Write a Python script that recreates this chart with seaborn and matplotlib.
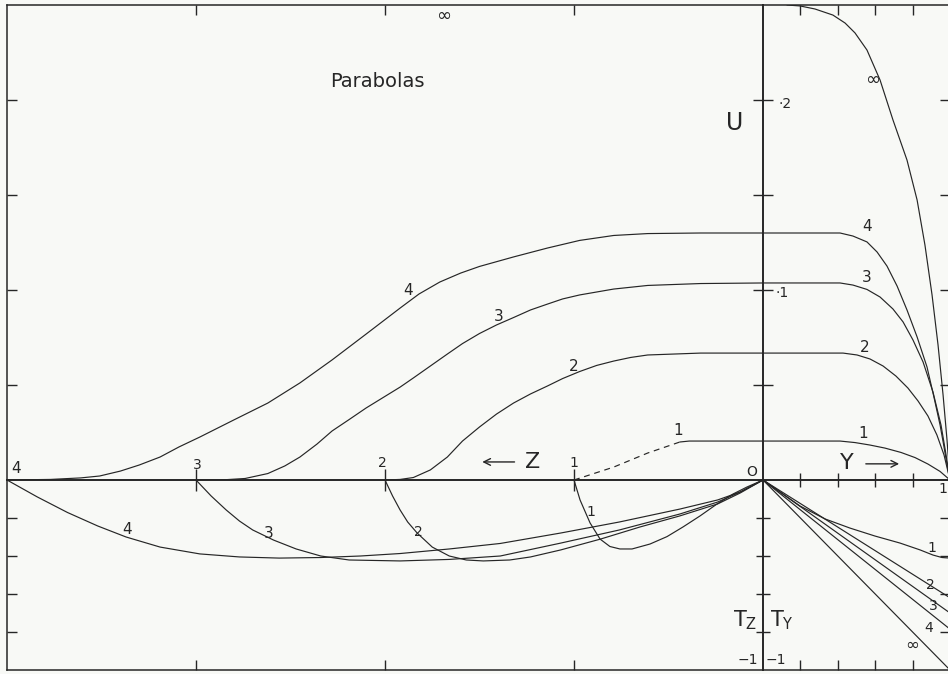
import matplotlib
matplotlib.use("Agg")
import matplotlib.pyplot as plt
import seaborn as sns

# ---------------------------------------------------------------
# U profiles along the Z direction (parabolas n = 1..4)
z_u4 = [4.0, 3.77, 3.61, 3.51, 3.40, 3.30, 3.19, 3.09, 2.98, 2.80, 2.62, 2.45, 2.28, 2.10, 1.92,
        1.82, 1.71, 1.60, 1.50, 1.32, 1.14, 0.97, 0.79, 0.61, 0.33, 0.0]
u_z4 = [0.0, 0.0003, 0.0011, 0.0021, 0.0047, 0.0079, 0.0121, 0.0174, 0.0226, 0.0316, 0.0405,
        0.0511, 0.0632, 0.0768, 0.0905, 0.0979, 0.1042, 0.1089, 0.1124, 0.1174, 0.1221, 0.1261,
        0.1287, 0.1297, 0.1300, 0.1300]
z_u3 = [3.0, 2.87, 2.74, 2.62, 2.53, 2.45, 2.36, 2.28, 2.19, 2.10, 2.01, 1.92, 1.85, 1.76, 1.67,
        1.59, 1.50, 1.41, 1.32, 1.23, 1.14, 1.06, 0.97, 0.79, 0.61, 0.33, 0.0]
u_z3 = [0.0, 0.0, 0.0008, 0.0034, 0.0074, 0.0121, 0.0189, 0.0258, 0.0318, 0.0379, 0.0434,
        0.0489, 0.0537, 0.0600, 0.0663, 0.0718, 0.0771, 0.0816, 0.0855, 0.0895, 0.0926, 0.0953,
        0.0974, 0.1005, 0.1024, 0.1034, 0.1037]
z_u2 = [2.0, 1.92, 1.85, 1.76, 1.67, 1.59, 1.50, 1.41, 1.32, 1.23, 1.14, 1.06, 0.97, 0.88, 0.79,
        0.70, 0.61, 0.33, 0.0]
u_z2 = [0.0, 0.0003, 0.0013, 0.0053, 0.0121, 0.0205, 0.0279, 0.0347, 0.0405, 0.0453, 0.0495,
        0.0534, 0.0571, 0.0603, 0.0626, 0.0645, 0.0658, 0.0668, 0.0668]
z_u1_dash = [1.0, 0.79, 0.61, 0.44]
u_z1_dash = [0.0, 0.0068, 0.0142, 0.0200]
z_u1 = [0.44, 0.39, 0.0]
u_z1 = [0.0200, 0.0205, 0.0205]

# U profiles along the Y direction
y_u4 = [0.0, 0.412, 0.481, 0.556, 0.610, 0.663, 0.717, 0.770, 0.824, 0.877, 0.914, 0.947,
        0.968, 0.989, 1.0]
u_y4 = [0.130, 0.130, 0.1284, 0.1253, 0.1200, 0.1126, 0.1021, 0.0895, 0.0753, 0.0595, 0.0437,
        0.0289, 0.0174, 0.0053, 0.0]
y_u3 = [0.0, 0.412, 0.481, 0.556, 0.626, 0.695, 0.749, 0.802, 0.856, 0.909, 0.952, 0.979, 1.0]
u_y3 = [0.1037, 0.1037, 0.1026, 0.1003, 0.0963, 0.0900, 0.0832, 0.0737, 0.0621, 0.0463, 0.0289,
        0.0132, 0.0]
y_u2 = [0.0, 0.428, 0.503, 0.572, 0.642, 0.711, 0.775, 0.829, 0.882, 0.930, 0.968, 1.0]
u_y2 = [0.0668, 0.0668, 0.0658, 0.0637, 0.0600, 0.0547, 0.0484, 0.0416, 0.0337, 0.0237, 0.0132, 0.0]
y_u1 = [0.0, 0.412, 0.492, 0.572, 0.652, 0.738, 0.813, 0.882, 0.947, 1.0]
u_y1 = [0.0205, 0.0205, 0.0197, 0.0184, 0.0168, 0.0145, 0.0118, 0.0084, 0.0045, 0.0]
y_uinf = [0.128, 0.198, 0.278, 0.374, 0.439, 0.492, 0.556, 0.626, 0.695, 0.770, 0.824, 0.866,
          0.904, 0.936, 0.963, 0.984, 1.0]
u_yinf = [0.2500, 0.2495, 0.2479, 0.2447, 0.2405, 0.2353, 0.2263, 0.2105, 0.1895, 0.1684, 0.1474,
          0.1237, 0.0974, 0.0711, 0.0447, 0.0211, 0.0]

# T_Z along Z
z_t4 = [4.0, 3.84, 3.68, 3.52, 3.37, 3.19, 2.98, 2.77, 2.56, 2.34, 2.13, 1.92, 1.66, 1.39, 1.07,
        0.76, 0.44, 0.24, 0.12, 0.0]
t_z4 = [0.0, -0.089, -0.171, -0.242, -0.300, -0.353, -0.389, -0.405, -0.411, -0.408, -0.400,
        -0.387, -0.363, -0.334, -0.279, -0.221, -0.153, -0.105, -0.063, 0.0]
z_t3 = [3.0, 2.92, 2.84, 2.77, 2.70, 2.59, 2.47, 2.34, 2.19, 1.92, 1.66, 1.39, 1.07, 0.76, 0.44,
        0.24, 0.12, 0.0]
t_z3 = [0.0, -0.084, -0.158, -0.216, -0.263, -0.316, -0.363, -0.400, -0.421, -0.426, -0.418,
        -0.400, -0.332, -0.263, -0.179, -0.116, -0.063, 0.0]
z_t2 = [2.0, 1.96, 1.92, 1.88, 1.83, 1.75, 1.66, 1.57, 1.48, 1.34, 1.23, 1.07, 0.86, 0.65, 0.44,
        0.24, 0.12, 0.0]
t_z2 = [0.0, -0.084, -0.158, -0.221, -0.279, -0.353, -0.400, -0.421, -0.426, -0.421, -0.405,
        -0.368, -0.311, -0.247, -0.189, -0.126, -0.068, 0.0]
z_t1 = [1.0, 0.968, 0.915, 0.862, 0.810, 0.757, 0.693, 0.598, 0.508, 0.423, 0.333, 0.243, 0.159,
        0.085, 0.0]
t_z1 = [0.0, -0.105, -0.226, -0.311, -0.350, -0.363, -0.363, -0.337, -0.298, -0.247, -0.189,
        -0.126, -0.074, -0.037, 0.0]

# T_Y along Y
y_t1 = [0.0, 0.091, 0.198, 0.332, 0.465, 0.599, 0.733, 0.840, 0.909, 0.957, 1.0]
t_y1 = [0.0, -0.063, -0.137, -0.205, -0.253, -0.295, -0.332, -0.368, -0.395, -0.408, -0.411]
y_t2 = [0.0, 1.0]
t_y2 = [0.0, -0.62]
y_t3 = [0.0, 1.0]
t_y3 = [0.0, -0.70]
y_t4 = [0.0, 1.0]
t_y4 = [0.0, -0.785]
y_tinf = [0.0, 1.0]
t_yinf = [0.0, -1.0]

z_ticks = [1, 2, 3]
y_ticks = [0.2, 0.4, 0.6, 0.8]
u_ticks = [0.05, 0.10, 0.15, 0.20]
t_ticks = [-0.2, -0.4, -0.6, -0.8]
# ---------------------------------------------------------------

sns.set_theme(style="white")
plt.rcParams["font.family"] = ["DejaVu Sans"]

PAPER = "#f8f9f6"
INK = "#262626"

W, H = 948, 674
fig = plt.figure(figsize=(W / 100, H / 100), dpi=100, facecolor=PAPER)


def px_box(x0, y0, x1, y1):
    return [x0 / W, 1 - y1 / H, (x1 - x0) / W, (y1 - y0) / H]


XL, XO, XR = 7, 763, 950
YT, YO, YB = 5, 480, 670
ax_zu = fig.add_axes(px_box(XL, YT, XO, YO))
ax_yu = fig.add_axes(px_box(XO, YT, XR, YO))
ax_zt = fig.add_axes(px_box(XL, YO, XO, YB))
ax_yt = fig.add_axes(px_box(XO, YO, XR, YB))

for ax in (ax_zu, ax_zt):
    ax.set_xlim(4.0, 0.0)
for ax in (ax_yu, ax_yt):
    ax.set_xlim(0.0, 1.0)
for ax in (ax_zu, ax_yu):
    ax.set_ylim(0.0, 0.25)
for ax in (ax_zt, ax_yt):
    ax.set_ylim(-1.0, 0.0)

for ax in (ax_zu, ax_yu, ax_zt, ax_yt):
    ax.set_facecolor("none")
    for s in ax.spines.values():
        s.set_color(INK)
        s.set_linewidth(1.1)

# outer frame and the two centre lines
ax_yu.spines["left"].set_visible(False)
ax_yt.spines["left"].set_visible(False)
ax_zt.spines["top"].set_visible(False)
ax_yt.spines["top"].set_visible(False)
for ax, side in ((ax_zu, "right"), (ax_zt, "right"), (ax_zu, "bottom"), (ax_yu, "bottom")):
    ax.spines[side].set_linewidth(1.4)

frame_kw = dict(direction="in", length=7, width=1.0, color=INK,
                labelbottom=False, labeltop=False, labelleft=False, labelright=False)

ax_zu.set_xticks(z_ticks)
ax_zu.set_yticks(u_ticks)
ax_zu.tick_params(axis="x", top=True, bottom=False, **frame_kw)
ax_zu.tick_params(axis="y", left=True, right=False, **frame_kw)

ax_yu.set_xticks(y_ticks)
ax_yu.set_yticks(u_ticks)
ax_yu.tick_params(axis="x", top=True, bottom=False, **frame_kw)
ax_yu.tick_params(axis="y", left=False, right=True, **frame_kw)

ax_zt.set_xticks(z_ticks)
ax_zt.set_yticks(t_ticks)
ax_zt.tick_params(axis="x", top=False, bottom=True, **frame_kw)
ax_zt.tick_params(axis="y", left=True, right=False, **frame_kw)

ax_yt.set_xticks(y_ticks)
ax_yt.set_yticks(t_ticks)
ax_yt.tick_params(axis="x", top=False, bottom=True, **frame_kw)
ax_yt.tick_params(axis="y", left=False, right=True, **frame_kw)

# crossing ticks on the centre lines
cross_kw = dict(direction="inout", width=1.0, color=INK,
                labelbottom=False, labeltop=False, labelleft=False, labelright=False)
sx = ax_zu.secondary_xaxis("bottom")
sx.set_xticks(z_ticks)
sx.tick_params(axis="x", length=16, **cross_kw)
sx.spines["bottom"].set_visible(False)

sx2 = ax_yu.secondary_xaxis("bottom")
sx2.set_xticks(y_ticks)
sx2.tick_params(axis="x", length=10, **cross_kw)
sx2.spines["bottom"].set_visible(False)

sy = ax_yu.secondary_yaxis("left")
sy.set_yticks(u_ticks)
sy.tick_params(axis="y", length=14, **cross_kw)
sy.spines["left"].set_visible(False)

sy2 = ax_yt.secondary_yaxis("left")
sy2.set_yticks(t_ticks)
sy2.tick_params(axis="y", length=10, **cross_kw)
sy2.spines["left"].set_visible(False)


def curve(ax, x, y, ls="-"):
    sns.lineplot(x=x, y=y, ax=ax, sort=False, estimator=None, color=INK,
                 linewidth=0.85, linestyle=ls, solid_joinstyle="round")


# U along Z
curve(ax_zu, z_u4, u_z4)
curve(ax_zu, z_u3, u_z3)
curve(ax_zu, z_u2, u_z2)
curve(ax_zu, z_u1_dash, u_z1_dash, ls=(0, (5, 4)))
curve(ax_zu, z_u1, u_z1)
# U along Y
curve(ax_yu, y_u4, u_y4)
curve(ax_yu, y_u3, u_y3)
curve(ax_yu, y_u2, u_y2)
curve(ax_yu, y_u1, u_y1)
curve(ax_yu, y_uinf, u_yinf)
# T_Z along Z
curve(ax_zt, z_t4, t_z4)
curve(ax_zt, z_t3, t_z3)
curve(ax_zt, z_t2, t_z2)
curve(ax_zt, z_t1, t_z1)
# T_Y along Y
curve(ax_yt, y_t1, t_y1)
curve(ax_yt, y_t2, t_y2)
curve(ax_yt, y_t3, t_y3)
curve(ax_yt, y_t4, t_y4)
curve(ax_yt, y_tinf, t_yinf)

for ax in (ax_zu, ax_yu, ax_zt, ax_yt):
    ax.set_xlabel("")
    ax.set_ylabel("")


def label(ax, x, y, s, size=11, **kw):
    ax.text(x, y, s, fontsize=size, color=INK, ha="center", va="center",
            clip_on=False, **kw)


# annotations in the U-Z panel
label(ax_zu, 2.04, 0.2095, "Parabolas", size=14)
label(ax_zu, 1.69, 0.244, "∞", size=13)
label(ax_zu, 1.88, 0.0995, "4")
label(ax_zu, 1.40, 0.0860, "3")
label(ax_zu, 1.00, 0.0600, "2")
label(ax_zu, 0.45, 0.0258, "1")
label(ax_zu, 3.95, 0.0063, "4")
label(ax_zu, 2.995, 0.0079, "3", size=10)
label(ax_zu, 2.016, 0.0089, "2", size=10)
label(ax_zu, 1.0, 0.0089, "1", size=10)
label(ax_zu, 1.217, 0.0095, "Z", size=16)
ax_zu.annotate("", xy=(1.50, 0.0095), xytext=(1.30, 0.0095),
               arrowprops=dict(arrowstyle="->", color=INK, lw=1.0))
label(ax_zu, 0.058, 0.0042, "O", size=10)
label(ax_zu, 0.148, 0.188, "U", size=17)

# annotations in the U-Y panel
label(ax_yu, 0.588, 0.2105, "∞", size=13)
label(ax_yu, 0.556, 0.1335, "4")
label(ax_yu, 0.556, 0.1065, "3")
label(ax_yu, 0.545, 0.0700, "2")
label(ax_yu, 0.535, 0.0245, "1")
label(ax_yu, 0.12, 0.198, "·2", size=10)
label(ax_yu, 0.10, 0.0984, "·1", size=10)
label(ax_yu, 0.449, 0.0089, "Y", size=16)
ax_yu.annotate("", xy=(0.743, 0.0085), xytext=(0.535, 0.0085),
               arrowprops=dict(arrowstyle="->", color=INK, lw=1.0))

# annotations in the T_Z panel
label(ax_zt, 3.365, -0.263, "4")
label(ax_zt, 2.614, -0.279, "3")
label(ax_zt, 1.825, -0.274, "2", size=10)
label(ax_zt, 0.91, -0.168, "1", size=10)
label(ax_zt, 0.095, -0.737, "T$_\\mathregular{Z}$", size=15)
label(ax_zt, 0.08, -0.947, "−1", size=10)

# annotations in the T_Y panel
label(ax_yt, 0.904, -0.358, "1", size=10)
label(ax_yt, 0.893, -0.553, "2", size=10)
label(ax_yt, 0.909, -0.663, "3", size=10)
label(ax_yt, 0.888, -0.779, "4", size=10)
label(ax_yt, 0.797, -0.868, "∞", size=12)
label(ax_yt, 0.10, -0.737, "T$_\\mathregular{Y}$", size=15)
label(ax_yt, 0.07, -0.947, "−1", size=10)
label(ax_yt, 0.962, -0.045, "1", size=10)

fig.savefig("out.png", dpi=100, facecolor=PAPER)
